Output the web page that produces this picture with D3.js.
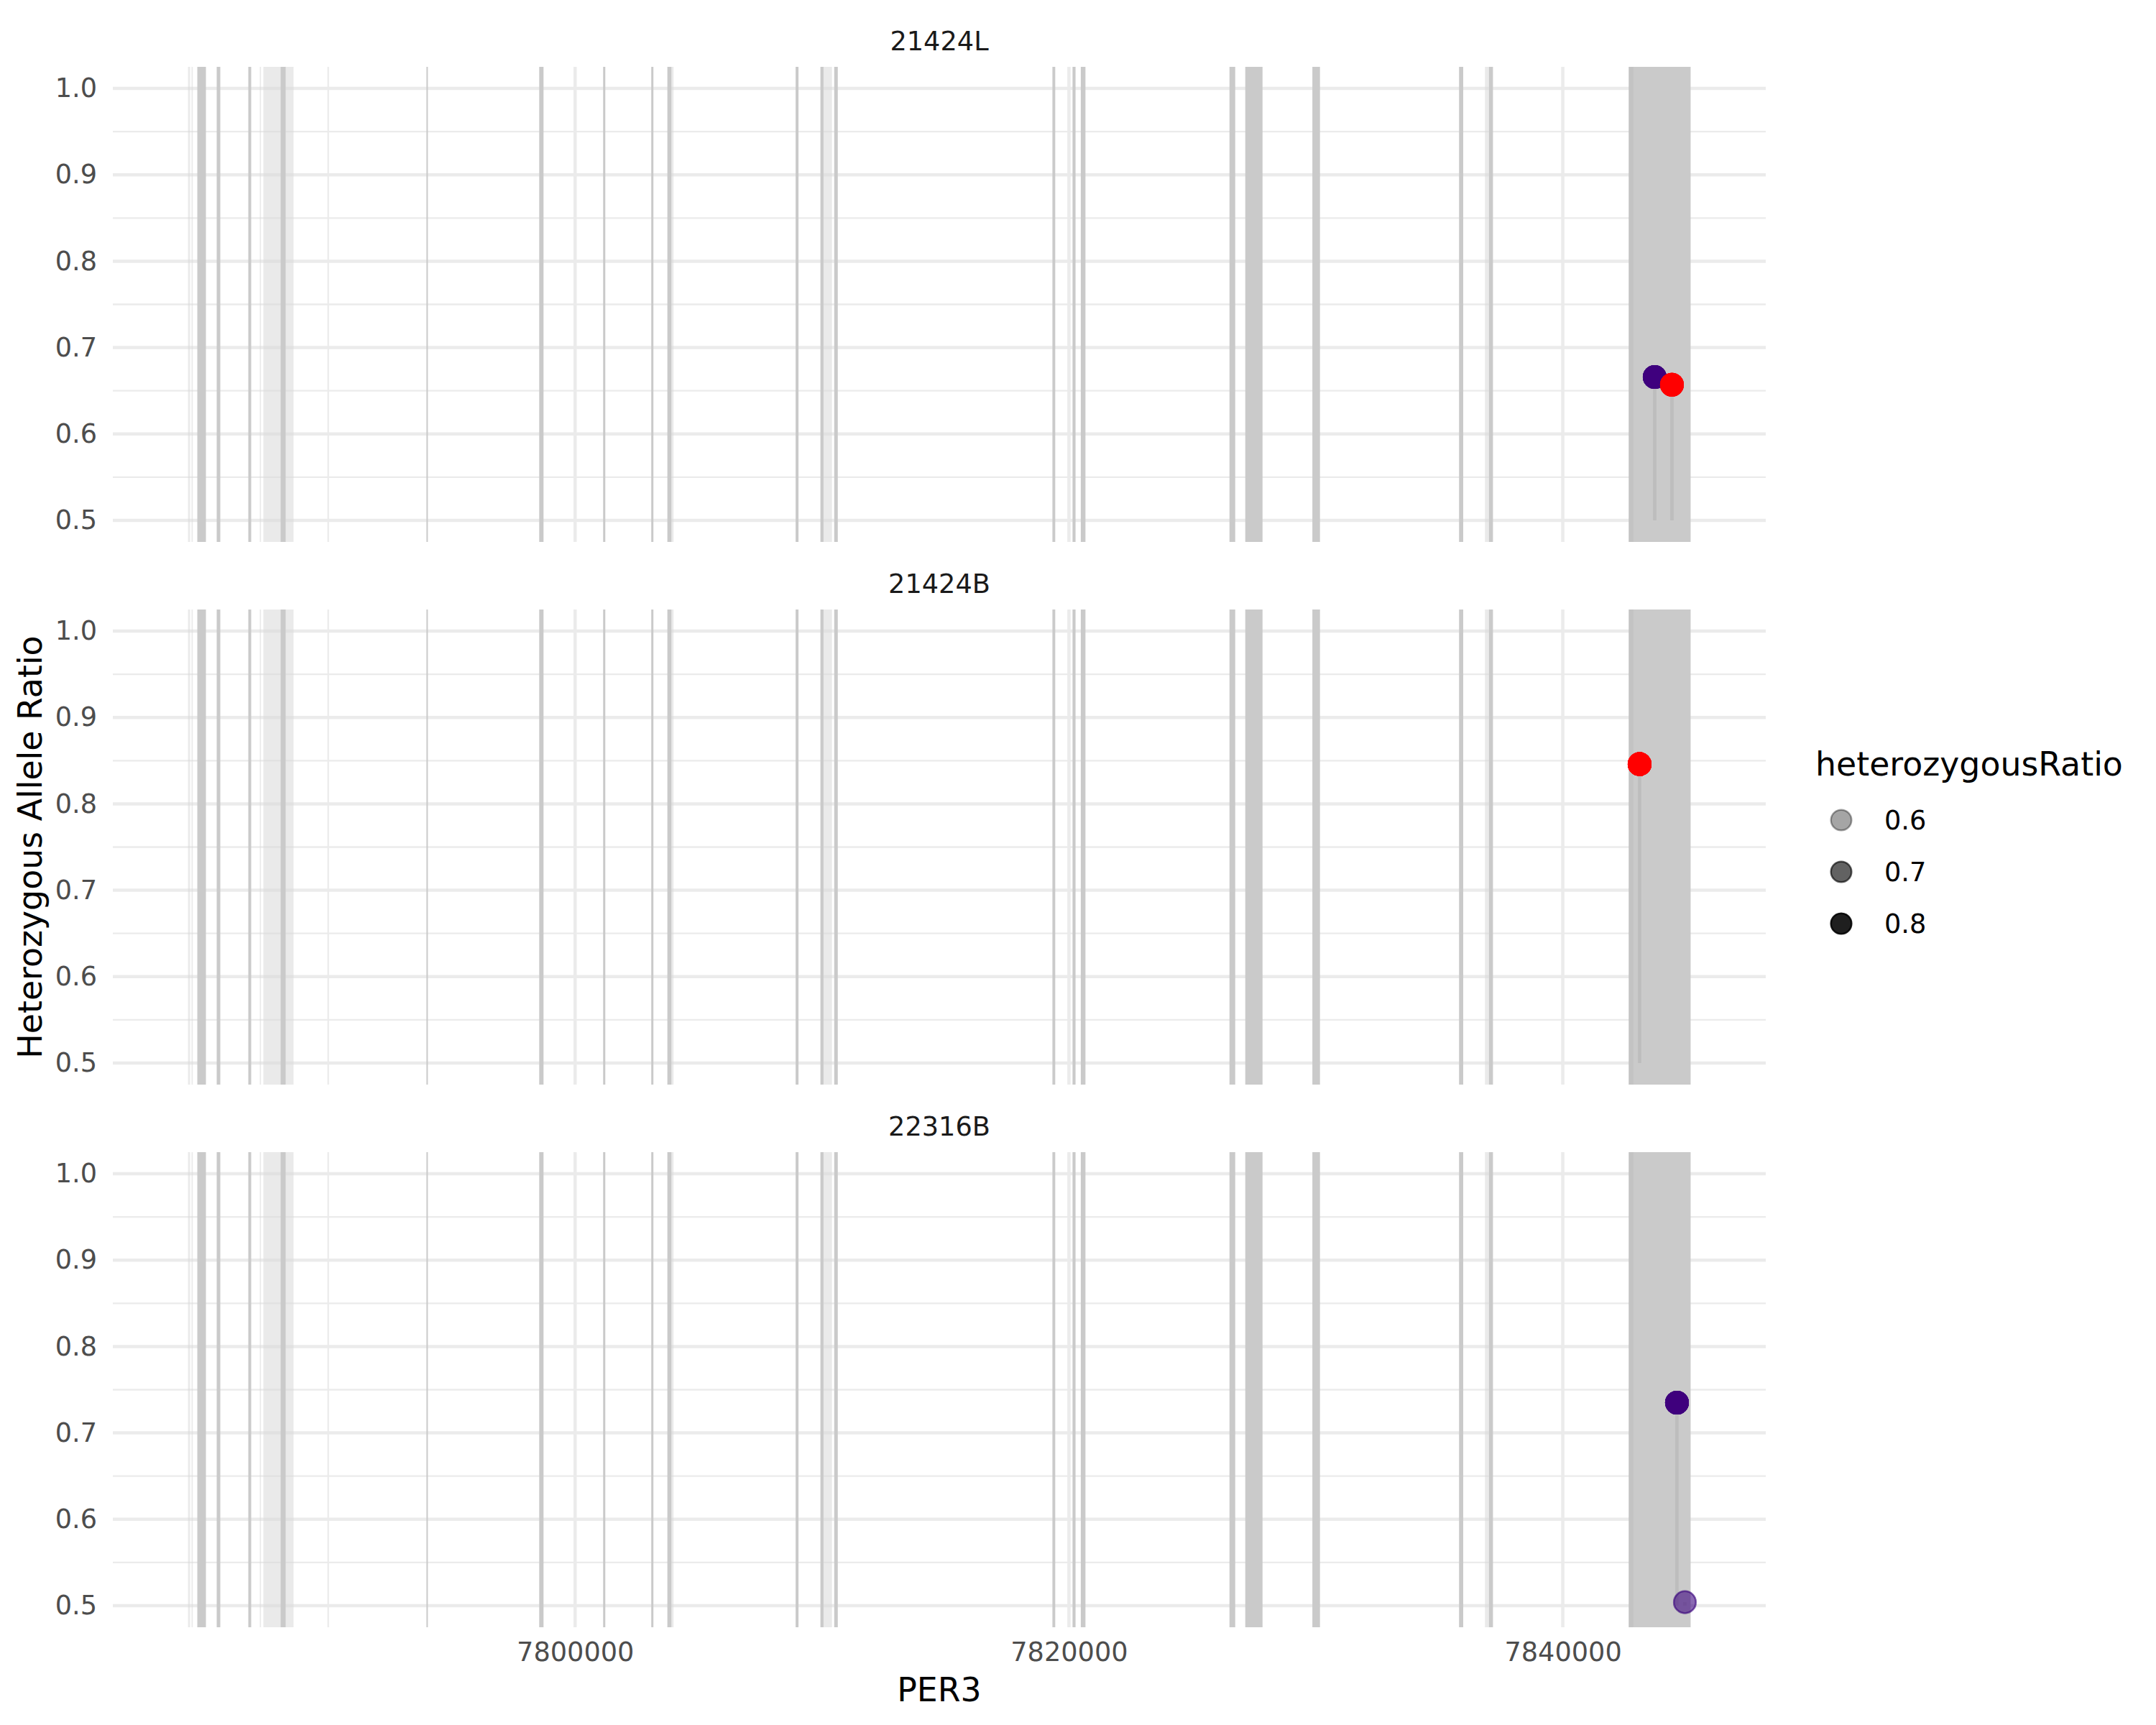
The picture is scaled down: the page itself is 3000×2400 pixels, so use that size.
<!DOCTYPE html>
<meta charset="utf-8">
<style>
  body { margin: 0; background: #fff; }
  text { font-family: "DejaVu Sans", sans-serif; }
  .grid-major { stroke: #ebebeb; stroke-width: 4.5; }
  .grid-minor { stroke: #ebebeb; stroke-width: 2.3; }
  .axis .tick text { fill: #4d4d4d; font-size: 36.7px; font-family: "DejaVu Sans", sans-serif; }
  .axis path { display: none; }
  .strip { fill: #1a1a1a; font-size: 36.7px; }
  .title { fill: #000; font-size: 45.8px; }
  .stem { stroke: #bdbdbd; stroke-width: 4.7; }
</style>
<body>
<script src="https://d3js.org/d3.v7.min.js"></script>
<script>

// PER3 exon bands: start, end, number of transcripts sharing the exon
var exonStart = [7784320, 7784465, 7784698, 7785484, 7786764, 7787229, 7787374, 7788073,
                 7793978, 7798545, 7801134, 7803083, 7803738, 7803738, 7808930, 7809937,
                 7809937, 7810492, 7819330, 7820144, 7820479, 7826500, 7827140, 7829858,
                 7835798, 7836846, 7837012, 7842675, 7842675];
var exonEnd   = [7784407, 7784515, 7785047, 7785629, 7786880, 7787278, 7788596, 7788276,
                 7794036, 7798720, 7801222, 7803170, 7803985, 7803898, 7809046, 7810402,
                 7810059, 7810638, 7819444, 7820266, 7820668, 7826733, 7827839, 7830166,
                 7835967, 7837169, 7837169, 7845177, 7842858];
var exonTx    = [1, 1, 2, 2, 2, 1, 1, 2,
                 2, 2, 2, 2, 1, 2, 2, 1,
                 2, 2, 2, 2, 2, 2, 2, 2,
                 2, 1, 2, 2, 3];

var geneRange = [7784320, 7845177];

// samples (facets)
var samples = ["21424L", "21424B", "22316B"];

// heterozygous variants
var varSample = ["21424L", "21424L", "21424B", "22316B", "22316B"];
var varPos    = [7843722, 7844420, 7843111, 7844624, 7844944];
var varRatio  = [0.666, 0.657, 0.846, 0.735, 0.504];
var varGroup  = ["A", "B", "B", "A", "A"];
var rowsPerVariant = 8;   // one row per transcript in the joined table

var ratioRange = [0.5, 1.0];
var xTicks = [7800000, 7820000, 7840000];
var xMinor = [7790000, 7810000, 7830000];
var yTicks = [0.5, 0.6, 0.7, 0.8, 0.9, 1.0];
var yMinor = [0.55, 0.65, 0.75, 0.85, 0.95];
var legendBreaks = [0.6, 0.7, 0.8];

// layout
var W = 3000, H = 2400;
var panelLeft = 157, panelRight = 2457;
var panelTops = [93, 848, 1603], panelH = 661;

function expand(d) {
  var p = (d[1] - d[0]) * 0.05;
  return [d[0] - p, d[1] + p];
}

var x = d3.scaleLinear().domain(expand(geneRange)).range([panelLeft, panelRight]);
var y = d3.scaleLinear().domain(expand(ratioRange)).range([panelH, 0]);
var alpha = d3.scaleLinear().domain(d3.extent(varRatio)).range([0.1, 1]);
var colour = d3.scaleOrdinal().domain(["A", "B"]).range(["#3f007d", "#ff0000"]);
var bandFill = d3.scaleOrdinal().domain([1, 2, 3]).range(["#d9d9d9", "#cacaca", "#c3c3c3"]);

var exons = exonStart.map(function(s, i) { return {start: s, end: exonEnd[i], n: exonTx[i]}; })
  .sort(function(a, b) { return a.n - b.n; });
var variants = varPos.map(function(p, i) {
  return {sample: varSample[i], pos: p, ratio: varRatio[i], group: varGroup[i]};
});

var svg = d3.select("body").append("svg")
    .attr("width", W)
    .attr("height", H);

samples.forEach(function(s, pi) {
  var g = svg.append("g").attr("transform", "translate(0," + panelTops[pi] + ")");

  // strip label
  g.append("text")
      .attr("class", "strip")
      .attr("x", (panelLeft + panelRight) / 2)
      .attr("y", -36)
      .attr("dy", "0.36em")
      .attr("text-anchor", "middle")
      .text(s);

  // grid
  g.selectAll(".ymin").data(yMinor).enter().append("line")
      .attr("class", "grid-minor")
      .attr("x1", panelLeft).attr("x2", panelRight)
      .attr("y1", function(d) { return y(d); }).attr("y2", function(d) { return y(d); });
  g.selectAll(".xmin").data(xMinor).enter().append("line")
      .attr("class", "grid-minor")
      .attr("y1", 0).attr("y2", panelH)
      .attr("x1", function(d) { return x(d); }).attr("x2", function(d) { return x(d); });
  g.selectAll(".ymaj").data(yTicks).enter().append("line")
      .attr("class", "grid-major")
      .attr("x1", panelLeft).attr("x2", panelRight)
      .attr("y1", function(d) { return y(d); }).attr("y2", function(d) { return y(d); });
  g.selectAll(".xmaj").data(xTicks).enter().append("line")
      .attr("class", "grid-major")
      .attr("y1", 0).attr("y2", panelH)
      .attr("x1", function(d) { return x(d); }).attr("x2", function(d) { return x(d); });

  // exon bands
  g.selectAll(".exon").data(exons).enter().append("rect")
      .attr("x", function(d) { return x(d.start); })
      .attr("width", function(d) { return Math.max(1, x(d.end) - x(d.start)); })
      .attr("y", 0)
      .attr("height", panelH)
      .attr("fill", function(d) { return bandFill(d.n); })
      .attr("fill-opacity", function(d) { return d.n === 1 ? 0.55 : 1; });

  var vs = variants.filter(function(d) { return d.sample === s; });

  // lollipop stems
  g.selectAll(".stem").data(vs).enter().append("line")
      .attr("class", "stem")
      .attr("x1", function(d) { return x(d.pos); }).attr("x2", function(d) { return x(d.pos); })
      .attr("y1", y(ratioRange[0]))
      .attr("y2", function(d) { return y(d.ratio); });

  // points, one per joined row
  var rows = [];
  vs.forEach(function(d) { d3.range(rowsPerVariant).forEach(function() { rows.push(d); }); });
  g.selectAll(".pt").data(rows).enter().append("circle")
      .attr("cx", function(d) { return x(d.pos); })
      .attr("cy", function(d) { return y(d.ratio); })
      .attr("r", 15.3)
      .attr("fill", function(d) { return colour(d.group); })
      .attr("stroke", function(d) { return colour(d.group); })
      .attr("stroke-width", 2.5)
      .attr("fill-opacity", function(d) { return alpha(d.ratio); })
      .attr("stroke-opacity", function(d) { return alpha(d.ratio); });

  // y axis
  g.append("g")
      .attr("class", "axis")
      .attr("transform", "translate(" + panelLeft + ",0)")
      .call(d3.axisLeft(y).tickValues(yTicks).tickSize(0).tickPadding(22)
            .tickFormat(d3.format(".1f")));

  // x axis on the bottom panel only
  if (pi === samples.length - 1) {
    g.append("g")
        .attr("class", "axis")
        .attr("transform", "translate(0," + panelH + ")")
        .call(d3.axisBottom(x).tickValues(xTicks).tickSize(0).tickPadding(21)
              .tickFormat(d3.format("d")));
  }
});

// axis titles
svg.append("text")
    .attr("class", "title")
    .attr("x", (panelLeft + panelRight) / 2)
    .attr("y", 2367)
    .attr("text-anchor", "middle")
    .text("PER3");

svg.append("text")
    .attr("class", "title")
    .attr("transform", "translate(58," + (panelTops[0] + panelTops[2] + panelH) / 2 + ") rotate(-90)")
    .attr("text-anchor", "middle")
    .text("Heterozygous Allele Ratio");

// legend
var legend = svg.append("g").attr("transform", "translate(2526,1079)");
legend.append("text")
    .attr("class", "title")
    .text("heterozygousRatio");

var key = legend.selectAll(".key").data(legendBreaks).enter().append("g")
    .attr("transform", function(d, i) { return "translate(0," + (62 + i * 72) + ")"; });
key.append("circle")
    .attr("cx", 36)
    .attr("r", 14.3)
    .attr("fill", "#000")
    .attr("stroke", "#000")
    .attr("stroke-width", 2.5)
    .attr("fill-opacity", function(d) { return alpha(d); })
    .attr("stroke-opacity", function(d) { return alpha(d); });
key.append("text")
    .attr("x", 96)
    .attr("dy", "0.36em")
    .style("font-size", "36.7px")
    .style("fill", "#000")
    .text(function(d) { return d3.format(".1f")(d); });

</script>
</body>
